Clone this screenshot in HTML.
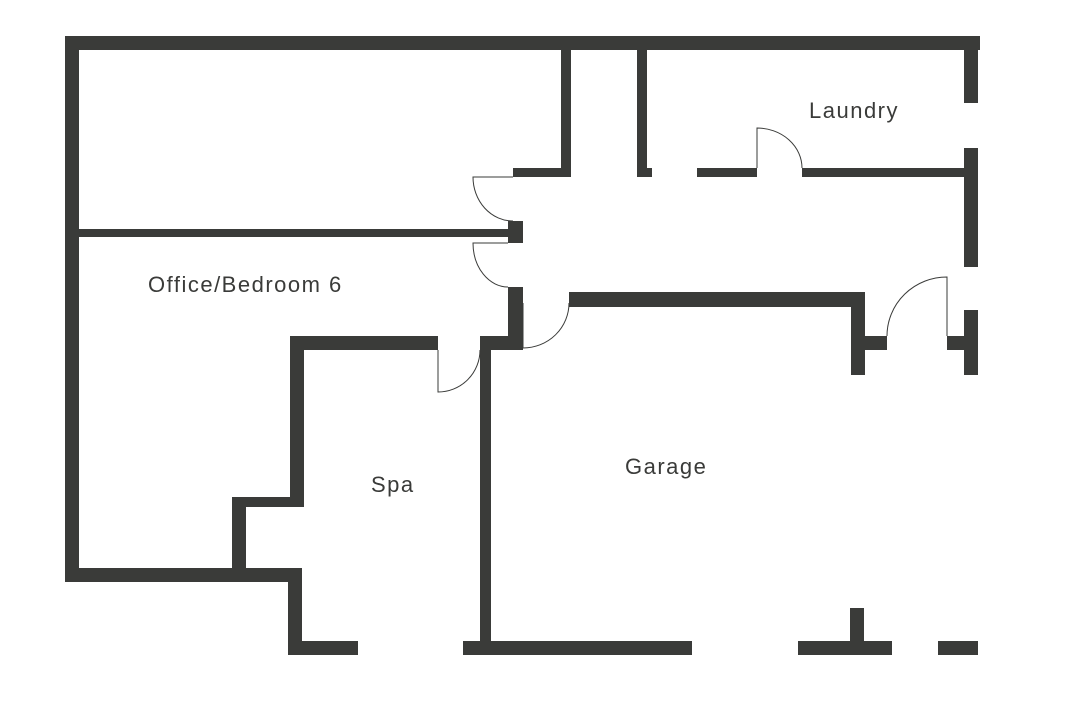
<!DOCTYPE html>
<html><head><style>html,body{margin:0;padding:0;background:#fff}</style></head><body>
<svg width="1088" height="721" viewBox="0 0 1088 721" xmlns="http://www.w3.org/2000/svg">
<g fill="#3a3b39">
<rect x="65" y="36" width="915" height="14"/>
<rect x="65" y="36" width="14" height="546"/>
<rect x="65" y="568" width="237" height="14"/>
<rect x="288" y="568" width="14" height="87"/>
<rect x="288" y="641" width="70" height="14"/>
<rect x="463" y="641" width="229" height="14"/>
<rect x="798" y="641" width="94" height="14"/>
<rect x="938" y="641" width="40" height="14"/>
<rect x="850" y="608" width="14" height="47"/>
<rect x="964" y="50" width="14" height="53"/>
<rect x="964" y="148" width="14" height="119"/>
<rect x="964" y="310" width="14" height="65"/>
<rect x="561" y="50" width="10" height="127"/>
<rect x="513" y="168" width="58" height="9"/>
<rect x="637" y="50" width="10" height="127"/>
<rect x="637" y="168" width="15" height="9"/>
<rect x="697" y="168" width="60" height="9"/>
<rect x="802" y="168" width="162" height="9"/>
<rect x="79" y="229" width="430" height="8"/>
<rect x="508" y="221" width="15" height="22"/>
<rect x="508" y="287" width="15" height="63"/>
<rect x="480" y="336" width="43" height="14"/>
<rect x="480" y="336" width="11" height="319"/>
<rect x="569" y="292" width="296" height="15"/>
<rect x="851" y="292" width="14" height="83"/>
<rect x="865" y="336" width="22" height="14"/>
<rect x="947" y="336" width="17" height="14"/>
<rect x="290" y="336" width="148" height="14"/>
<rect x="290" y="336" width="14" height="171"/>
<rect x="232" y="497" width="72" height="10"/>
<rect x="232" y="497" width="14" height="71"/>
</g>
<g fill="none" stroke="#3a3b39" stroke-width="1">
<path d="M513 177 H473 A40 44 0 0 0 513 221"/>
<path d="M508 243 H473 A35 44 0 0 0 508 287"/>
<path d="M523 303 V348 A46 45 0 0 0 569 303"/>
<path d="M757 168 V128 A45 40 0 0 1 802 168"/>
<path d="M947 336 V277 A60 59 0 0 0 887 336"/>
<path d="M438 350 V392 A42 42 0 0 0 480 350"/>
</g>
<g fill="#3a3b39" font-family="Liberation Sans, sans-serif" font-size="22" letter-spacing="1.5">
<text x="809" y="118">Laundry</text>
<text x="148" y="292">Office/Bedroom 6</text>
<text x="371" y="492">Spa</text>
<text x="625" y="474">Garage</text>
</g>
</svg>
</body></html>
